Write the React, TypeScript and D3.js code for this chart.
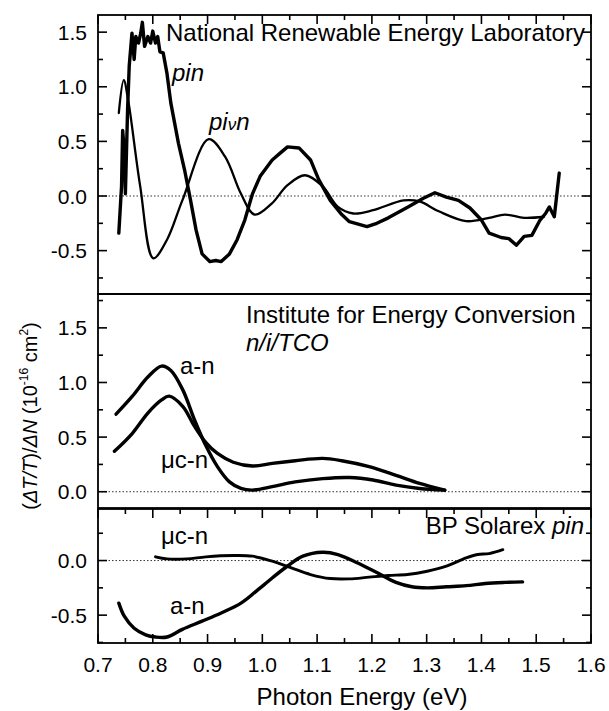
import React from "react";
import * as d3 from "d3";

// photon energy (eV) vs (dT/T)/dN (1e-16 cm^2)
const nrelPin: [number, number][] = [
  [0.738, -0.34], [0.743, 0.09], [0.745, 0.6], [0.748, 0.42], [0.75, 0.02], [0.754, 0.79],
  [0.757, 1.19], [0.762, 1.49], [0.766, 1.25], [0.769, 1.46], [0.774, 1.4], [0.778, 1.49],
  [0.781, 1.59], [0.785, 1.37], [0.791, 1.46], [0.796, 1.4], [0.8, 1.51], [0.805, 1.4],
  [0.809, 1.46], [0.813, 1.32], [0.819, 1.31], [0.826, 1.12], [0.833, 0.85], [0.847, 0.48],
  [0.858, 0.24], [0.869, -0.04], [0.879, -0.31], [0.89, -0.53], [0.904, -0.6], [0.915, -0.59],
  [0.925, -0.6], [0.94, -0.53], [0.954, -0.4], [0.968, -0.22], [0.982, 0.02], [0.996, 0.18],
  [1.018, 0.33], [1.032, 0.39], [1.046, 0.45], [1.067, 0.44], [1.088, 0.33], [1.103, 0.15],
  [1.124, -0.04], [1.145, -0.17], [1.159, -0.235], [1.191, -0.28], [1.209, -0.25], [1.23, -0.2],
  [1.266, -0.1], [1.294, -0.02], [1.315, 0.03], [1.336, -0.01], [1.358, -0.04], [1.379, -0.11],
  [1.4, -0.22], [1.414, -0.34], [1.436, -0.38], [1.45, -0.39], [1.464, -0.45], [1.478, -0.37],
  [1.492, -0.36], [1.507, -0.22], [1.517, -0.16], [1.524, -0.1], [1.533, -0.19], [1.542, 0.21],
];

const nrelPivn: [number, number][] = [
  [0.738, 0.76], [0.747, 1.06], [0.755, 0.88], [0.777, 0.09], [0.801, -0.57], [0.826, -0.4],
  [0.854, -0.04], [0.902, 0.52], [0.932, 0.36], [0.961, 0.02], [0.986, -0.17], [1.017, -0.07],
  [1.046, 0.1], [1.078, 0.19], [1.11, 0.09], [1.138, -0.1], [1.166, -0.16], [1.202, -0.13],
  [1.258, -0.04], [1.287, -0.05], [1.322, -0.14], [1.372, -0.23], [1.414, -0.2], [1.443, -0.17],
  [1.478, -0.2], [1.514, -0.19],
];

const iecAn: [number, number][] = [
  [0.733, 0.71], [0.762, 0.87], [0.791, 1.05], [0.816, 1.15], [0.833, 1.11], [0.855, 0.93],
  [0.876, 0.66], [0.897, 0.42], [0.918, 0.23], [0.94, 0.09], [0.961, 0.03], [0.982, 0.015],
  [1.018, 0.046], [1.06, 0.09], [1.11, 0.12], [1.159, 0.13], [1.202, 0.107], [1.244, 0.06],
  [1.287, 0.03], [1.333, 0.015],
];

const iecUcn: [number, number][] = [
  [0.73, 0.37], [0.762, 0.53], [0.791, 0.72], [0.816, 0.84], [0.83, 0.875], [0.855, 0.78],
  [0.876, 0.6], [0.897, 0.45], [0.918, 0.35], [0.947, 0.27], [0.982, 0.235], [1.018, 0.26],
  [1.06, 0.284], [1.11, 0.305], [1.145, 0.284], [1.195, 0.23], [1.244, 0.15], [1.287, 0.076],
  [1.333, 0.015],
];

const bpAn: [number, number][] = [
  [0.738, -0.39], [0.748, -0.51], [0.766, -0.62], [0.787, -0.68], [0.805, -0.7], [0.826, -0.7],
  [0.854, -0.63], [0.89, -0.555], [0.925, -0.48], [0.961, -0.39], [0.989, -0.28], [1.018, -0.16],
  [1.046, -0.05], [1.074, 0.04], [1.11, 0.076], [1.138, 0.055], [1.173, -0.02], [1.209, -0.11],
  [1.244, -0.2], [1.273, -0.24], [1.301, -0.25], [1.336, -0.24], [1.372, -0.23], [1.407, -0.21],
  [1.443, -0.2], [1.475, -0.195],
];

const bpUcn: [number, number][] = [
  [0.805, 0.034], [0.826, 0.015], [0.862, 0.015], [0.897, 0.034], [0.947, 0.046], [0.982, 0.04],
  [1.018, -0.006], [1.053, -0.067], [1.088, -0.128], [1.124, -0.165], [1.159, -0.168], [1.195, -0.152],
  [1.23, -0.137], [1.265, -0.128], [1.301, -0.098], [1.336, -0.052], [1.372, 0.024], [1.393, 0.055],
  [1.414, 0.064], [1.439, 0.1],
];

const energyTicks = [0.7, 0.8, 0.9, 1.0, 1.1, 1.2, 1.3, 1.4, 1.5, 1.6];
const topTicks = [-0.5, 0, 0.5, 1.0, 1.5];
const midTicks = [0, 0.5, 1.0, 1.5];
const botTicks = [-0.5, 0];

const W = 609;
const H = 711;
const left = 98;
const right = 591;
const font = "'Liberation Sans', Arial, sans-serif";
const fs = 21; // tick labels
const fa = 24; // annotations

const x = d3.scaleLinear().domain([0.7, 1.6]).range([left, right]);

const panels = [
  { top: 15, bottom: 294, domain: [-0.897, 1.657], ticks: topTicks, topAxis: true, bottomAxis: false,
    curves: [{ d: nrelPin, w: 3.4, smooth: false }, { d: nrelPivn, w: 2.3, smooth: true }] },
  { top: 294, bottom: 508, domain: [-0.149, 1.81], ticks: midTicks, topAxis: false, bottomAxis: false,
    curves: [{ d: iecAn, w: 3.4, smooth: true }, { d: iecUcn, w: 3.4, smooth: true }] },
  { top: 509, bottom: 643, domain: [-0.755, 0.472], ticks: botTicks, topAxis: true, bottomAxis: true,
    curves: [{ d: bpAn, w: 3.4, smooth: true }, { d: bpUcn, w: 2.9, smooth: true }] },
];

const Panel = ({ p }: { p: any }) => {
  const y = d3.scaleLinear().domain(p.domain).range([p.bottom, p.top]);
  const minorY = d3.range(-1, 2, 0.25).filter((v) => v > p.domain[0] && v < p.domain[1]);
  const majorY = minorY.filter((v) => Math.abs(v * 2 - Math.round(v * 2)) < 1e-6);
  const minorX = d3.range(0.7, 1.6001, 0.05);
  const isMajorX = (v: number) => Math.abs(v * 10 - Math.round(v * 10)) < 1e-6;
  return (
    <g>
      <line x1={left} x2={right} y1={y(0)} y2={y(0)} stroke="#333" strokeWidth={1} strokeDasharray="1.5,2" />
      {p.curves.map((c: any, i: number) => (
        <path key={i} d={d3.line().x((d) => x(d[0])).y((d) => y(d[1]))
          .curve(c.smooth ? d3.curveCatmullRom : d3.curveLinear)(c.d) || ""}
          fill="none" stroke="#000" strokeWidth={c.w} strokeLinejoin="round" strokeLinecap="round" />
      ))}
      {minorY.map((v: number) => {
        const len = majorY.includes(v) ? 9 : 5;
        return (
          <g key={v}>
            <line x1={left} x2={left + len} y1={y(v)} y2={y(v)} stroke="#000" strokeWidth={1.6} />
            <line x1={right} x2={right - len} y1={y(v)} y2={y(v)} stroke="#000" strokeWidth={1.6} />
          </g>
        );
      })}
      {p.ticks.map((v: number) => (
        <text key={v} x={left - 11} y={y(v) + 7.5} textAnchor="end"
          fontSize={fs} fontFamily={font}>{v.toFixed(1)}</text>
      ))}
      {minorX.map((v: number) => {
        const len = isMajorX(v) ? 9 : 5;
        return (
          <g key={v}>
            {p.topAxis && <line x1={x(v)} x2={x(v)} y1={p.top} y2={p.top + len} stroke="#000" strokeWidth={1.6} />}
            {p.bottomAxis && <line x1={x(v)} x2={x(v)} y1={p.bottom} y2={p.bottom - len} stroke="#000" strokeWidth={1.6} />}
          </g>
        );
      })}
      <rect x={left} y={p.top} width={right - left} height={p.bottom - p.top} fill="none" stroke="#000" strokeWidth={1.8} />
    </g>
  );
};

export default function App() {
  return (
    <svg width={W} height={H} style={{ position: "absolute", left: 0, top: 0, background: "#fff" }}>
      <rect width={W} height={H} fill="#fff" />
      {panels.map((p, i) => <Panel key={i} p={p} />)}

      {energyTicks.map((v) => (
        <text key={v} x={x(v)} y={671.5} textAnchor="middle" fontSize={fs} fontFamily={font}>{v.toFixed(1)}</text>
      ))}
      <text x={362} y={705} textAnchor="middle" fontSize={24} fontFamily={font}>Photon Energy (eV)</text>

      <text transform="translate(37,416) rotate(-90)" textAnchor="middle" fontSize={20} fontFamily={font}>
        (<tspan fontStyle="italic">ΔT/T</tspan>)/<tspan fontStyle="italic">ΔN</tspan> (10
        <tspan fontSize={12} dy={-9}>-16</tspan>
        <tspan dy={9}> cm</tspan>
        <tspan fontSize={12} dy={-9}>2</tspan>
        <tspan dy={9}>)</tspan>
      </text>

      <text x={166} y={41} fontSize={fa} fontFamily={font}>National Renewable Energy Laboratory</text>
      <text x={172} y={81} fontSize={fa} fontFamily={font} fontStyle="italic">pin</text>
      <text x={209} y={130} fontSize={fa} fontFamily={font} fontStyle="italic">pi<tspan fontSize={17}>ν</tspan>n</text>

      <text x={246} y={323} fontSize={fa} fontFamily={font}>Institute for Energy Conversion</text>
      <text x={246} y={351} fontSize={fa} fontFamily={font} fontStyle="italic">n/i/TCO</text>
      <text x={180} y={374} fontSize={fa} fontFamily={font}>a-n</text>
      <text x={161} y={468} fontSize={fa} fontFamily={font}>μc-n</text>

      <text x={right - 7} y={534} textAnchor="end" fontSize={fa} fontFamily={font}>BP Solarex <tspan fontStyle="italic">pin</tspan></text>
      <text x={161} y={544} fontSize={fa} fontFamily={font}>μc-n</text>
      <text x={170} y={614} fontSize={fa} fontFamily={font}>a-n</text>
    </svg>
  );
}
